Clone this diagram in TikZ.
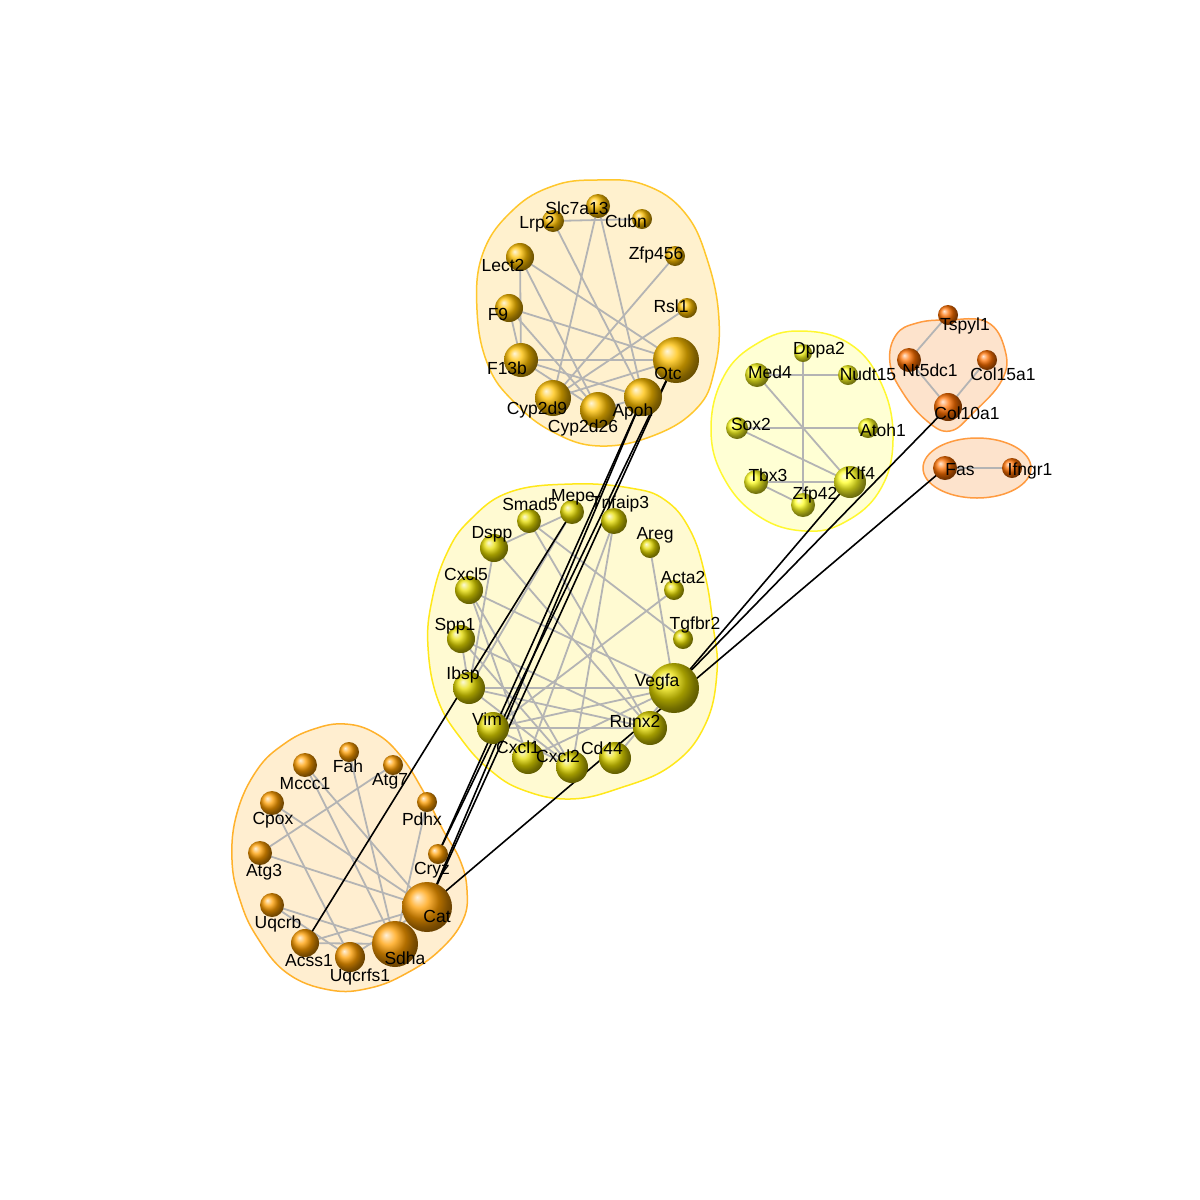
\documentclass[tikz,border=0pt]{standalone}
\usepackage{fontspec}
\setmainfont{Liberation Sans}
\pgfdeclarelayer{bg}\pgfdeclarelayer{hulls}\pgfdeclarelayer{links}\pgfdeclarelayer{texts}
\pgfsetlayers{bg,hulls,links,main,texts}
\definecolor{bA}{HTML}{FFC000}
\definecolor{bB}{HTML}{E6DC00}
\definecolor{bC}{HTML}{FF9E00}
\definecolor{bD}{HTML}{FFFF20}
\definecolor{bE}{HTML}{FF7000}
\definecolor{hAf}{HTML}{FFF1CE}\definecolor{hAd}{HTML}{FFC72C}
\definecolor{hBf}{HTML}{FFFAD2}\definecolor{hBd}{HTML}{FFE81A}
\definecolor{hCf}{HTML}{FFEED0}\definecolor{hCd}{HTML}{FFB22C}
\definecolor{hDf}{HTML}{FFFFD4}\definecolor{hDd}{HTML}{FFF830}
\definecolor{hEf}{HTML}{FDE3CC}\definecolor{hEd}{HTML}{FF9B40}
\definecolor{gedge}{HTML}{B4B4B4}
\tikzset{
  vball/.style={circle,inner sep=0pt,shading=ball},
  lab/.style={inner sep=0pt,text height=12.5pt,text depth=0pt,font=\fontsize{17.5}{18}\selectfont},
  glink/.style={draw=gedge,line width=1.8pt},
  klink/.style={draw=black,line width=1.6pt},
  hullline/.style={line width=1.5pt}
}
\begin{document}
\begin{tikzpicture}[x=1pt,y=-1pt]
\useasboundingbox (0,0) rectangle (1200,1200);
\begin{pgfonlayer}{bg}
\fill[white] (0,0) rectangle (1200,1200);
\end{pgfonlayer}
% hulls
\begin{pgfonlayer}{hulls}
\draw[hullline,draw=hAd,fill=hAf] plot[smooth cycle,tension=0.7] coordinates {(597,180) (645,185) (685,213) (708,262) (719,320) (714,372) (697,408) (655,435) (600,446) (553,432) (514,402) (488,365) (477,310) (483,253) (513,210) (553,186)};
\draw[hullline,draw=hBd,fill=hBf] plot[smooth cycle,tension=0.7] coordinates {(572,484) (630,488) (665,500) (690,530) (705,575) (713,625) (717,672) (705,725) (672,765) (620,788) (570,799) (523,790) (490,770) (462,740) (438,700) (428,647) (432,600) (447,553) (470,520) (510,492)};
\draw[hullline,draw=hCd,fill=hCf] plot[smooth cycle,tension=0.7] coordinates {(314,729) (345,724) (375,733) (400,755) (422,789) (443,830) (460,860) (467,890) (463,920) (440,950) (407,973) (370,988) (330,990) (287,973) (257,937) (240,900) (232,860) (237,813) (257,770) (284,744)};
\draw[hullline,draw=hDd,fill=hDf] plot[smooth cycle,tension=0.7] coordinates {(800,331) (850,344) (882,385) (893,440) (880,490) (845,522) (805,531) (760,517) (725,480) (711,430) (724,376) (758,343)};
\draw[hullline,draw=hEd,fill=hEf] plot[smooth cycle,tension=0.7] coordinates {(917,323) (948,320) (987,322) (1005,350) (1002,380) (973,413) (950,431) (927,421) (903,393) (890,363) (896,335)};
\draw[hullline,draw=hEd,fill=hEf] (977,468) ellipse[x radius=54,y radius=30];
\end{pgfonlayer}
% vertices
\foreach \n/\x/\y/\r in {Slc7a13/598/206/12, Lrp2/553/221/11, Cubn/642/219/10, Lect2/520/257/14, Zfp456/675/256/10, F9/509/308/14, Rsl1/687/308/10, F13b/521/360/17, Otc/676/360/23, Cyp2d9/553/398/18, Cyp2d26/598/410/18, Apoh/643/397/19}
  \node[vball,ball color=bA,minimum size={2pt*\r}] (\n) at (\x,\y) {};
\foreach \n/\x/\y/\r in {Mepe/572/512/12, Smad5/529/521/12, Tnfaip3/614/521/13, Dspp/494/548/14, Areg/650/548/10, Cxcl5/469/590/14, Acta2/674/590/10, Spp1/461/639/14, Tgfbr2/683/639/10, Ibsp/469/688/16, Vegfa/674/688/25, Vim/493/728/16, Runx2/650/728/17, Cxcl1/528/758/16, Cd44/615/758/16, Cxcl2/572/767/16}
  \node[vball,ball color=bB,minimum size={2pt*\r}] (\n) at (\x,\y) {};
\foreach \n/\x/\y/\r in {Fah/349/752/10, Mccc1/305/765/12, Atg7/393/765/10, Cpox/272/803/12, Pdhx/427/802/10, Atg3/260/853/12, Cryz/438/854/10, Uqcrb/272/905/12, Cat/427/907/25, Acss1/305/943/14, Sdha/395/944/23, Uqcrfs1/350/957/15}
  \node[vball,ball color=bC,minimum size={2pt*\r}] (\n) at (\x,\y) {};
\foreach \n/\x/\y/\r in {Dppa2/803/353/9, Med4/757/375/12, Nudt15/848/375/10, Sox2/737/428/11, Atoh1/868/428/10, Tbx3/756/482/12, Klf4/850/482/16, Zfp42/803/505/12}
  \node[vball,ball color=bD,minimum size={2pt*\r}] (\n) at (\x,\y) {};
\foreach \n/\x/\y/\r in {Tspyl1/948/315/10, Nt5dc1/909/360/12, Col15a1/987/360/10, Col10a1/948/407/14, Fas/945/468/12, Ifngr1/1012/468/10}
  \node[vball,ball color=bE,minimum size={2pt*\r}] (\n) at (\x,\y) {};
% edges
\begin{pgfonlayer}{links}
\foreach \a/\b in {Lrp2/Cubn, Slc7a13/Cyp2d9, Slc7a13/Apoh, Lrp2/Apoh, Lect2/F13b, Lect2/Otc, Lect2/Cyp2d26, Zfp456/Cyp2d9, Rsl1/Cyp2d9, F9/F13b, F9/Otc, F9/Cyp2d26, F13b/Otc, F13b/Apoh, F13b/Cyp2d26, Cyp2d9/Otc, Cyp2d26/Apoh,
  Dspp/Mepe, Smad5/Tgfbr2, Smad5/Runx2, Mepe/Ibsp, Tnfaip3/Cxcl1, Tnfaip3/Cxcl2, Areg/Vegfa, Acta2/Vim, Dspp/Ibsp, Dspp/Runx2, Cxcl5/Vegfa, Cxcl5/Cxcl1, Cxcl5/Cxcl2, Spp1/Runx2, Spp1/Ibsp, Spp1/Cxcl2, Ibsp/Vegfa, Ibsp/Runx2, Ibsp/Cxcl2, Vim/Vegfa, Vim/Runx2, Vim/Cxcl2, Cxcl1/Vegfa, Cd44/Vegfa,
  Atg7/Atg3, Fah/Sdha, Mccc1/Sdha, Mccc1/Cat, Cpox/Cat, Cpox/Uqcrfs1, Pdhx/Sdha, Atg3/Cat, Uqcrb/Sdha, Uqcrb/Uqcrfs1, Acss1/Cat, Acss1/Sdha, Uqcrfs1/Cat,
  Med4/Nudt15, Dppa2/Zfp42, Sox2/Atoh1, Med4/Klf4, Sox2/Klf4, Tbx3/Klf4, Tbx3/Zfp42,
  Tspyl1/Nt5dc1, Nt5dc1/Col10a1, Col15a1/Col10a1, Fas/Ifngr1}
  \draw[glink] (\a.center) -- (\b.center);
\foreach \a/\b in {Acss1/Mepe, Apoh/Cryz, Apoh/Cat, Otc/Cat, Otc/Cryz, Cat/Fas, Vegfa/Klf4, Vegfa/Col10a1}
  \draw[klink] (\a.center) -- (\b.center);
\end{pgfonlayer}
% labels
\begin{pgfonlayer}{texts}
\foreach \n/\x/\y in {Slc7a13/577/208, Lrp2/537/222, Cubn/626/221, Lect2/503/265, Zfp456/656/253, F9/498/314, Rsl1/671/306, F13b/507/368, Otc/668/373, Cyp2d9/537/408, Cyp2d26/583/426, Apoh/633/410,
  Mepe/573/495, Smad5/530/504, Tnfaip3/620/502, Dspp/492/532, Areg/655/533, Cxcl5/466/574, Acta2/683/577, Spp1/455/624, Tgfbr2/695/623, Ibsp/463/673, Vegfa/657/680, Vim/487/719, Runx2/635/721, Cxcl1/518/747, Cxcl2/558/756, Cd44/602/748,
  Fah/348/766, Mccc1/305/783, Atg7/390/779, Cpox/273/818, Pdhx/422/819, Atg3/264/870, Cryz/432/868, Uqcrb/278/922, Cat/437/916, Acss1/309/960, Sdha/405/958, Uqcrfs1/360/975,
  Dppa2/819/348, Med4/770/372, Nudt15/868/374, Sox2/751/424, Atoh1/883/430, Tbx3/768/475, Klf4/860/473, Zfp42/815/493,
  Tspyl1/965/324, Nt5dc1/930/370, Col15a1/1003/374, Col10a1/967/413, Fas/960/469, Ifngr1/1030/469}
  \node[lab] (\n-l) at (\x,\y) {\n};
\end{pgfonlayer}
\end{tikzpicture}
\end{document}
